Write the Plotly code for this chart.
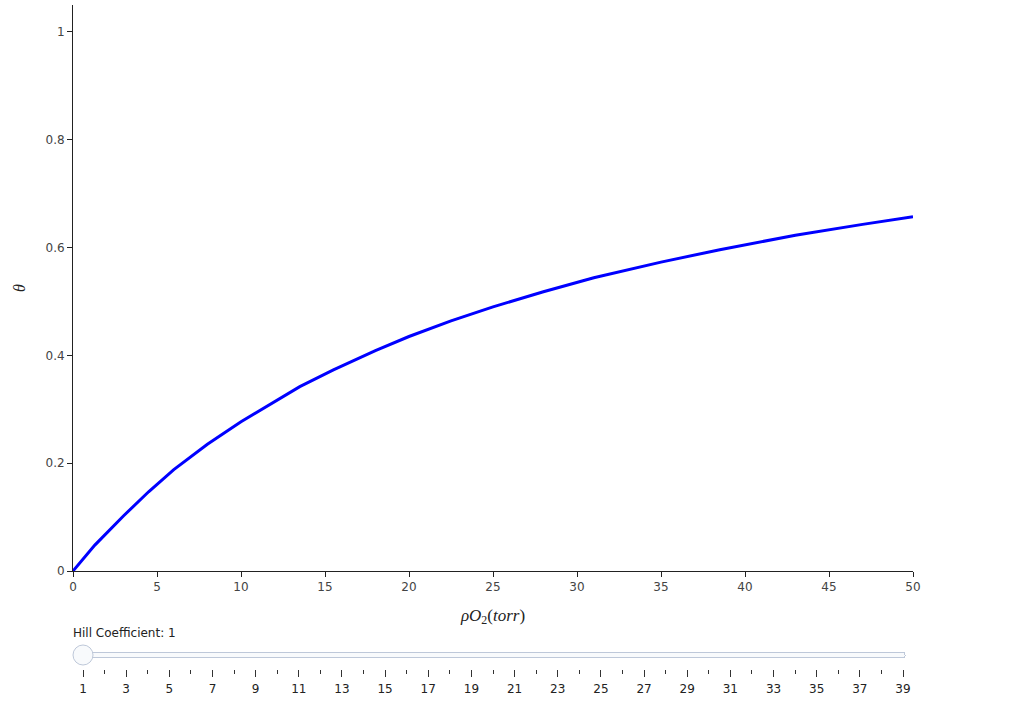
import plotly.graph_objects as go

# Oxygen partial pressure (torr) and fractional saturation
po2 = [0, 1.3, 3, 4.5, 6, 8, 10, 12, 13.5, 15.5, 18, 20, 22.5, 25, 28, 31, 35, 38.5, 43, 47, 50]
theta = [0, 0.048, 0.102, 0.147, 0.188, 0.235, 0.277, 0.315, 0.342, 0.373, 0.409, 0.435,
         0.464, 0.490, 0.518, 0.544, 0.573, 0.596, 0.623, 0.643, 0.657]
hill_values = list(range(1, 40))

fig = go.Figure()
fig.add_trace(go.Scatter(x=po2, y=theta, mode="lines", line=dict(color="blue", width=3),
                         showlegend=False))

steps = [dict(method="skip", label=str(n), args=[None]) for n in hill_values]

fig.update_layout(
    width=1012, height=709,
    margin=dict(l=73, r=99, t=5, b=138),
    paper_bgcolor="white", plot_bgcolor="white",
    font=dict(family="DejaVu Sans", size=12, color="#444"),
    xaxis=dict(range=[0, 50], showgrid=False, zeroline=False, showline=True, linecolor="#222",
               ticks="outside", ticklen=5, tickcolor="#222", dtick=5,
               title=dict(text="<i>ρO</i><sub>2</sub>(<i>torr</i>)",
                          font=dict(family="Liberation Serif", size=17, color="#222"))),
    yaxis=dict(range=[0, 1.05], showgrid=False, zeroline=False, showline=True, linecolor="#222",
               ticks="outside", ticklen=5, tickcolor="#222", dtick=0.2,
               title=dict(text="<i>θ</i>", font=dict(family="Liberation Serif", size=16, color="#222"))),
    sliders=[dict(active=0, steps=steps, x=0, len=1, y=0, yanchor="top",
                  pad=dict(t=50, r=0, l=0),
                  currentvalue=dict(prefix="Hill Coefficient: ", xanchor="left",
                                    font=dict(size=12, color="#222")),
                  font=dict(size=12, color="#222"))],
)

fig.write_html("out.html", config={"displayModeBar": False},
               post_script="document.body.style.margin='0px';")
